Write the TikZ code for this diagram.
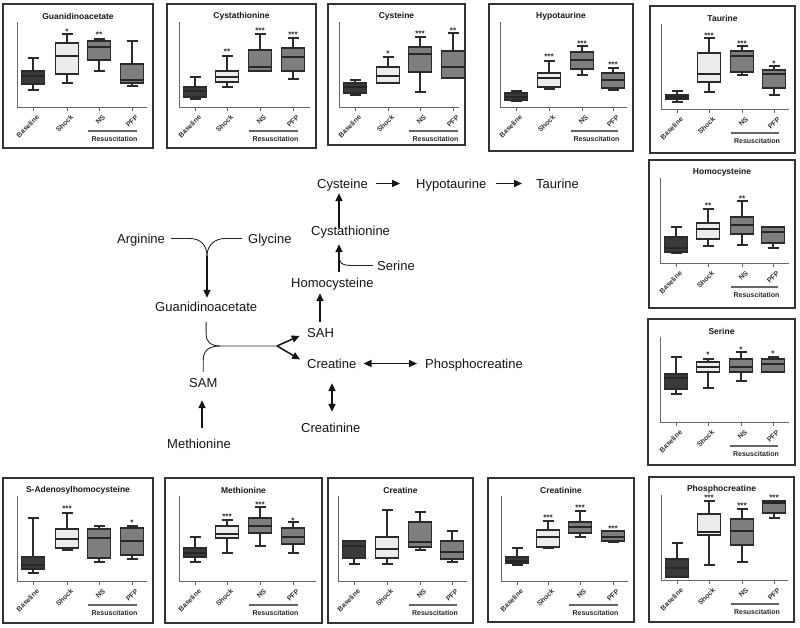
\documentclass[tikz,border=0pt]{standalone}
\usepackage{fontspec}
\setmainfont{Liberation Sans}
\usetikzlibrary{arrows.meta}
\newcount\nid
\newcommand{\nextid}{\global\advance\nid by 1 }
\definecolor{bdark}{HTML}{3A3A3A}
\definecolor{blight}{HTML}{ECECEC}
\definecolor{bmid}{HTML}{7E7E7E}
\definecolor{edgec}{HTML}{2B2B2B}
\tikzset{
  frame/.style={draw=black!80, line width=1.2pt},
  axisl/.style={draw=black!60, line width=0.9pt},
  whisk/.style={draw=edgec, line width=1.1pt},
  b0/.style={fill=bdark, draw=edgec, line width=1.1pt},
  b1/.style={fill=blight, draw=edgec, line width=1.1pt},
  b2/.style={fill=bmid, draw=edgec, line width=1.1pt},
  medl/.style={draw=black!85, line width=1.1pt},
  ptitle/.style={font=\bfseries\fontsize{8.5}{10}\selectfont, text=black!90, inner sep=0pt},
  tlab/.style={font=\bfseries\fontsize{7}{8}\selectfont, text=black!80, rotate=45, anchor=east, inner sep=0pt},
  resl/.style={draw=black!60, line width=1.6pt},
  reslab/.style={font=\bfseries\fontsize{7}{8}\selectfont, text=black!85, inner sep=0pt},
  stars/.style={font=\bfseries\fontsize{8}{9}\selectfont, text=black!85, inner sep=0pt, anchor=base},
  pathtxt/.style={font=\fontsize{13}{15}\selectfont, text=black!92, inner sep=0pt, text height=9.5pt, text depth=0.5pt, anchor=base west},
  arr/.style={-{Triangle[length=8pt,width=7pt]}, line width=1.5pt, draw=black!92},
  darr/.style={{Triangle[length=8pt,width=7pt]}-{Triangle[length=8pt,width=7pt]}, line width=1.5pt, draw=black!92},
  thinc/.style={line width=0.9pt, draw=black!85},
}
% box: cx style whiskertop q3 median q1 whiskerbottom star stary
\newcommand{\bx}[9]{%
  \draw[whisk] (#1,#3) -- (#1,#4) (#1,#6) -- (#1,#7) (#1-5.5,#3) -- (#1+5.5,#3) (#1-5.5,#7) -- (#1+5.5,#7);
  \draw[#2] (#1-11.5,#4) rectangle (#1+11.5,#6);
  \draw[medl] (#1-11.5,#5) -- (#1+11.5,#5);
  \if\relax\detokenize{#8}\relax\else\nextid\node[stars] (n\the\nid) at (#1,#9+4.6) {#8};\fi
}
% panel: w h title c1 c2 c3 c4
\newcommand{\pnl}[7]{%
  \draw[frame] (0,0) rectangle (#1,#2);
  \nextid\node[ptitle] (n\the\nid) at (#1/2,12) {#3};
  \draw[axisl] (#4-16,18) -- (#4-16,103.5) -- (#1-6,103.5);
  \foreach \c/\l in {#4/Baseline,#5/Shock,#6/NS,#7/PFP}{\draw[axisl] (\c,103.5) -- (\c,107);\nextid\node[tlab] (n\the\nid) at (\c+5,112) {\l};}
  \draw[resl] (#6-11,127) -- (#7+5,127);
  \nextid\node[reslab] (n\the\nid) at ({(#6+#7)/2-1},134.5) {Resuscitation};
}
\begin{document}
\begin{tikzpicture}[x=1pt,y=-1pt]
\useasboundingbox[fill=white] (0,0) rectangle (800,627);

% ---------- panels ----------
\begin{scope}[shift={(3,4)}]
\pnl{150}{144}{Guanidinoacetate}{30}{64}{96}{129}
\bx{30}{b0}{54}{67}{72}{80}{86}{}{0}
\bx{64}{b1}{30}{39}{52}{70}{79}{*}{26}
\bx{96}{b2}{35}{37}{43}{56}{67}{**}{29}
\bx{129}{b2}{37}{60}{76}{79}{82}{}{0}
\end{scope}

\begin{scope}[shift={(167,4)}]
\pnl{149}{144}{Cystathionine}{28}{60}{93}{126}
\bx{28}{b0}{73}{83}{87}{93}{95}{}{0}
\bx{60}{b1}{52}{67}{73}{78}{83}{**}{46}
\bx{93}{b2}{30}{46}{63}{67}{67}{***}{25}
\bx{126}{b2}{34}{44}{53}{67}{75}{***}{29}
\end{scope}

\begin{scope}[shift={(328,4)}]
\pnl{137}{141}{Cysteine}{27}{60}{92}{125}
\bx{27}{b0}{76}{79}{83}{89}{91}{}{0}
\bx{60}{b1}{53}{63}{72}{79}{79}{*}{48}
\bx{92}{b2}{33}{43}{50}{68}{88}{***}{28}
\bx{125}{b2}{29}{47}{63}{74}{74}{**}{25}
\end{scope}

\begin{scope}[shift={(489,4)}]
\pnl{144}{147}{Hypotaurine}{27}{60}{93}{124}
\bx{27}{b0}{87}{89}{93}{96}{97}{}{0}
\bx{60}{b1}{57}{69}{74}{83}{85}{***}{51}
\bx{93}{b2}{42}{48}{56}{65}{71}{***}{38}
\bx{124}{b2}{64}{69}{76}{84}{86}{***}{59}
\end{scope}

\begin{scope}[shift={(650,6)}]
\pnl{145}{147}{Taurine}{27}{59}{92}{124}
\bx{27}{b0}{85}{89}{91}{93}{96}{}{0}
\bx{59}{b1}{32}{47}{68}{76}{86}{***}{28}
\bx{92}{b2}{40}{45}{50}{66}{69}{***}{36}
\bx{124}{b2}{60}{64}{68}{82}{89}{*}{56}
\end{scope}

\begin{scope}[shift={(649,160)}]
\pnl{146}{148}{Homocysteine}{27}{59}{93}{124}
\bx{27}{b0}{67}{77}{88}{92}{93}{}{0}
\bx{59}{b1}{49}{63}{69}{79}{86}{**}{44}
\bx{93}{b2}{41}{57}{65}{74}{85}{**}{37}
\bx{124}{b2}{67}{67}{72}{83}{88}{}{0}
\end{scope}

\begin{scope}[shift={(648,319)}]
\pnl{147}{146}{Serine}{28}{60}{93}{125}
\bx{28}{b0}{38}{55}{59}{70}{75}{}{0}
\bx{60}{b1}{40}{43}{48}{53}{69}{*}{34}
\bx{93}{b2}{33}{40}{48}{53}{62}{*}{29}
\bx{125}{b2}{38}{40}{45}{53}{53}{*}{33}
\end{scope}

\begin{scope}[shift={(3,478)}]
\pnl{150}{145}{S-Adenosylhomocysteine}{30}{64}{96}{129}
\bx{30}{b0}{40}{79}{87}{91}{95}{}{0}
\bx{64}{b1}{35}{51}{61}{70}{72}{***}{29}
\bx{96}{b2}{48}{51}{60}{80}{84}{}{0}
\bx{129}{b2}{48}{50}{63}{77}{81}{*}{43}
\end{scope}

\begin{scope}[shift={(165,478)}]
\pnl{157}{145}{Methionine}{30}{62}{95}{128}
\bx{30}{b0}{59}{70}{75}{79}{84}{}{0}
\bx{62}{b1}{42}{48}{56}{60}{75}{***}{37}
\bx{95}{b2}{29}{40}{48}{55}{68}{***}{25}
\bx{128}{b2}{44}{50}{59}{66}{75}{*}{41}
\end{scope}

\begin{scope}[shift={(328,478)}]
\pnl{145}{145}{Creatine}{26}{59}{92}{124}
\bx{26}{b0}{63}{63}{68}{80}{86}{}{0}
\bx{59}{b1}{32}{59}{71}{80}{86}{}{0}
\bx{92}{b2}{34}{44}{64}{69}{72}{}{0}
\bx{124}{b2}{53}{63}{74}{81}{84}{}{0}
\end{scope}

\begin{scope}[shift={(488,478)}]
\pnl{146}{144}{Creatinine}{29}{60}{92}{125}
\bx{29}{b0}{70}{79}{83}{85}{87}{}{0}
\bx{60}{b1}{43}{52}{59}{69}{70}{***}{38}
\bx{92}{b2}{33}{44}{49}{55}{59}{***}{28}
\bx{125}{b2}{53}{53}{59}{63}{64}{***}{49}
\end{scope}

\begin{scope}[shift={(649,477)}]
\pnl{145}{145}{Phosphocreatine}{28}{60}{93}{125}
\bx{28}{b0}{66}{82}{91}{100}{100}{}{0}
\bx{60}{b1}{24}{37}{55}{58}{88}{***}{19}
\bx{93}{b2}{32}{42}{54}{68}{85}{***}{27}
\bx{125}{b2}{24}{24}{26}{36}{41}{***}{19}
\end{scope}

% ---------- pathway ----------
\coordinate (vx1) at (339,0);
\coordinate (vx2) at (320,0);
\coordinate (vx3) at (332,0);
\coordinate (vx4) at (202,0);
\coordinate (agj) at (207,256);
\coordinate (sj) at (339,255);
\coordinate (jn) at (277,346);

\node[pathtxt] (cys) at (317,188) {Cysteine};
\node[pathtxt] (hyp) at (416,188) {Hypotaurine};
\node[pathtxt] (tau) at (536,188) {Taurine};
\node[pathtxt] (cysta) at (311,235) {Cystathionine};
\node[pathtxt] (ser) at (377,270) {Serine};
\node[pathtxt] (hcy) at (291,287) {Homocysteine};
\node[pathtxt] (sah) at (307,337) {SAH};
\node[pathtxt] (cr) at (307,368) {Creatine};
\node[pathtxt] (pcr) at (425,368) {Phosphocreatine};
\node[pathtxt] (arg) at (117,243) {Arginine};
\node[pathtxt] (gly) at (248,243) {Glycine};
\node[pathtxt] (gaa) at (155,311) {Guanidinoacetate};
\node[pathtxt] (sam) at (189,387) {SAM};
\node[pathtxt] (crn) at (301,432) {Creatinine};
\node[pathtxt] (met) at (167,448) {Methionine};

\draw[arr, shorten <=8pt, shorten >=16pt] (cys.east) -- (hyp.west);
\draw[arr, shorten <=9pt, shorten >=14pt] (hyp.east) -- (tau.west);
\draw[arr, shorten <=-2.5pt, shorten >=4.5pt] (cysta.north -| vx1) -- (cys.south -| vx1);
\draw[arr, shorten <=5.5pt, shorten >=8.5pt] (hcy.north -| vx1) -- (cysta.south -| vx1);
\draw[thinc, shorten <=4pt] (ser.west) -- ++(-24,0) .. controls +(-12,0) and +(0,8) .. (sj);
\draw[arr, shorten <=5.5pt, shorten >=5.5pt] (sah.north -| vx2) -- (hcy.south -| vx2);
\draw[darr, shorten <=7pt, shorten >=8pt] (cr.east) -- (pcr.west);
\draw[darr, shorten <=14.5pt, shorten >=10.5pt] (cr.south -| vx3) -- (crn.north -| vx3);
\draw[arr, shorten <=10.5pt, shorten >=12.5pt] (met.north -| vx4) -- (sam.south -| vx4);
\draw[thinc, shorten <=6pt] (arg.east) -- ++(25,0) .. controls +(10,0) and +(0,-11) .. (agj);
\draw[thinc, shorten <=6pt] (gly.west) -- ++(-23,0) .. controls +(-10,0) and +(0,-11) .. (agj);
\draw[arr, shorten >=3.5pt] (agj) -- (gaa.north -| agj);
\draw[thinc] ([yshift=-10.5pt]gaa.south) -- ++(0,12) .. controls +(0,9) and +(-8,0) .. ([xshift=-57pt]jn) -- (jn);
\draw[thinc] ([yshift=5.5pt]sam.north) -- ++(0,-12) .. controls +(0,-10) and +(-10,0) .. ([xshift=-57pt]jn);
\draw[arr, shorten >=8pt] (jn) -- (sah.west);
\draw[arr, shorten >=8pt] (jn) -- (cr.west);
\end{tikzpicture}
\end{document}
